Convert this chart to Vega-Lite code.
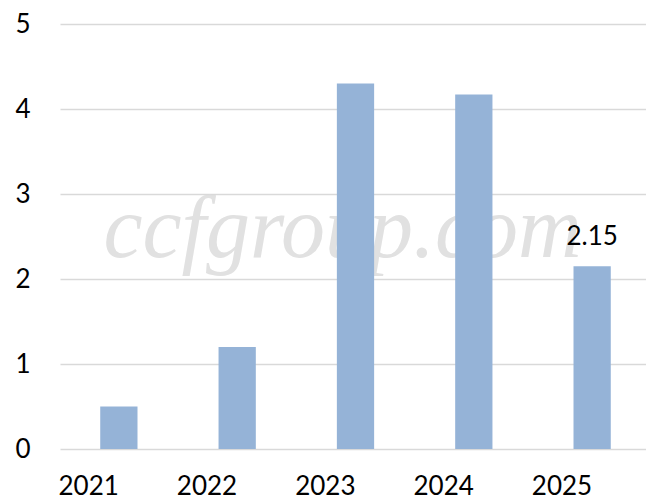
{
  "$schema": "https://vega.github.io/schema/vega-lite/v6.json",
  "autosize": "none",
  "padding": {"left": 60, "top": 24, "right": 0, "bottom": 53},
  "width": 591,
  "height": 425,
  "background": "white",
  "config": {
    "view": {"stroke": null},
    "font": "Lato",
    "axis": {"labelFont": "Lato", "labelFontSize": 26, "labelColor": "#000000", "domain": false, "ticks": false, "title": null}
  },
  "layer": [
    {
      "data": {"values": [{"text": "ccfgroup.com", "year": "2023", "pos": 2.26}]},
      "mark": {"type": "text", "font": "Liberation Serif", "fontStyle": "italic", "fontSize": 88, "color": "#dcdcdc", "opacity": 0.85, "align": "center", "baseline": "alphabetic", "xOffset": -13},
      "encoding": {
        "x": {"field": "year", "type": "nominal", "scale": {"domain": ["2021", "2022", "2023", "2024", "2025"]}},
        "y": {"field": "pos", "type": "quantitative"},
        "text": {"field": "text"}
      }
    },
    {
      "data": {"values": [
        {"year": "2021", "value": 0.5},
        {"year": "2022", "value": 1.2},
        {"year": "2023", "value": 4.3},
        {"year": "2024", "value": 4.17},
        {"year": "2025", "value": 2.15}
      ]},
      "layer": [
        {
          "mark": {"type": "bar", "color": "#95b3d7"},
          "encoding": {
            "x": {"field": "year", "type": "nominal", "scale": {"paddingInner": 0.685, "paddingOuter": 0.34}, "axis": {"labelAngle": 0, "labelPadding": 37}},
            "y": {"field": "value", "type": "quantitative", "scale": {"domain": [0, 5]}, "axis": {"values": [0, 1, 2, 3, 4, 5], "format": "d", "gridColor": "#d9d9d9", "gridWidth": 1.6, "labelPadding": 30, "labelAlign": "right"}}
          }
        },
        {
          "transform": [{"filter": "datum.year == '2025'"}],
          "mark": {"type": "text", "font": "Lato", "fontSize": 26, "color": "#000000", "baseline": "alphabetic", "dy": -21},
          "encoding": {
            "x": {"field": "year", "type": "nominal"},
            "y": {"field": "value", "type": "quantitative"},
            "text": {"field": "value", "type": "quantitative", "format": ".2f"}
          }
        }
      ]
    }
  ]
}
